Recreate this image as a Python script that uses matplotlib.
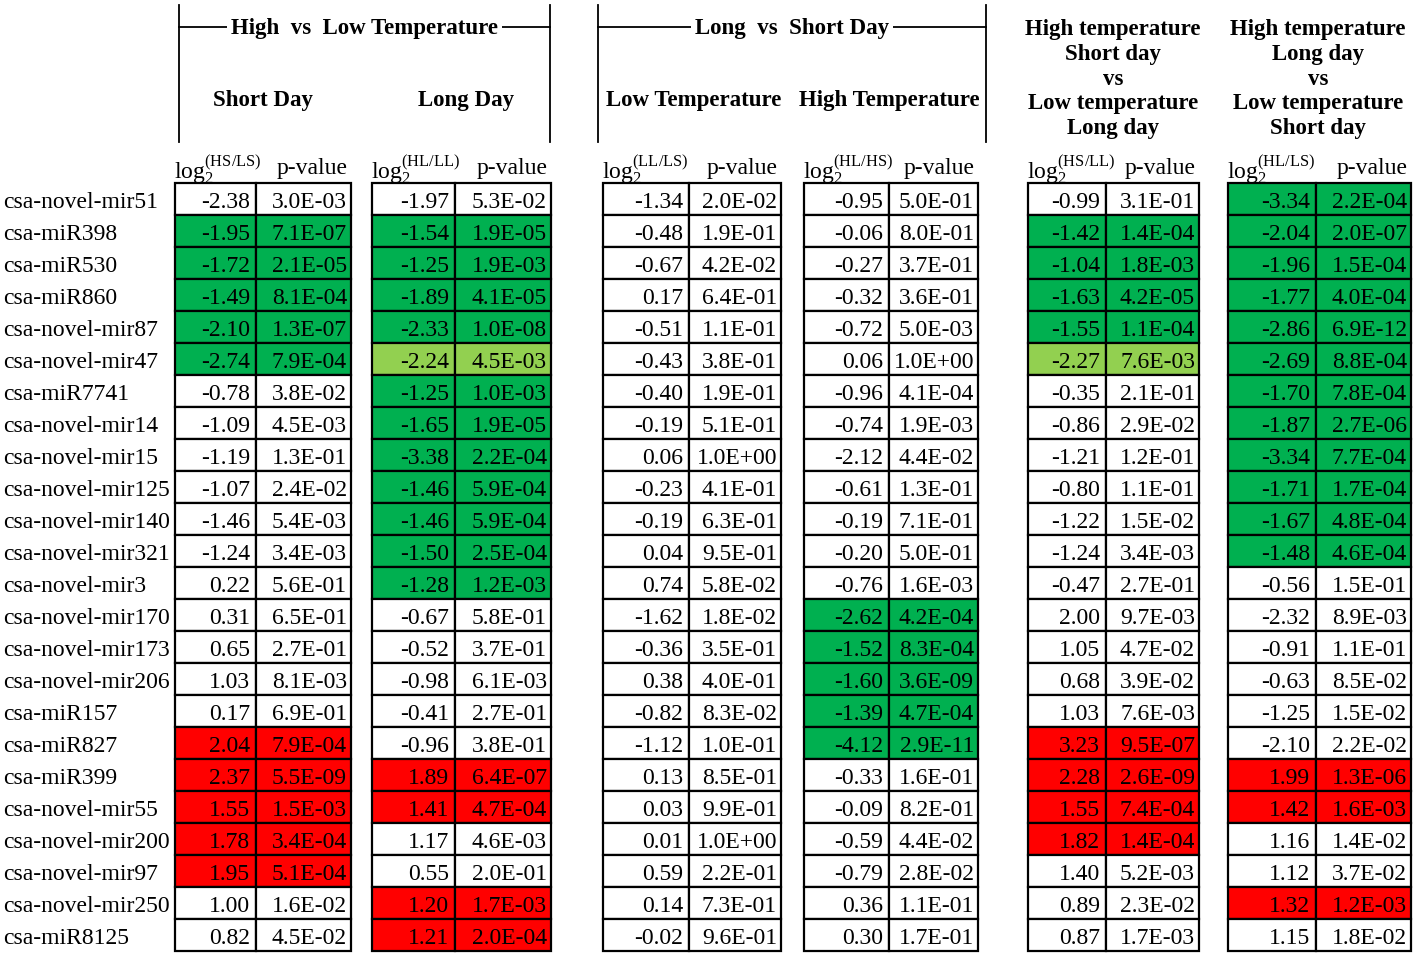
import matplotlib.pyplot as plt
from matplotlib.patches import Rectangle

plt.rcParams["font.family"] = "Liberation Serif"
plt.rcParams["mathtext.fontset"] = "custom"
plt.rcParams["mathtext.rm"] = "Liberation Serif"
plt.rcParams["mathtext.it"] = "Liberation Serif:italic"
plt.rcParams["mathtext.bf"] = "Liberation Serif:bold"

mirnas = ["csa-novel-mir51", "csa-miR398", "csa-miR530", "csa-miR860", "csa-novel-mir87",
          "csa-novel-mir47", "csa-miR7741", "csa-novel-mir14", "csa-novel-mir15", "csa-novel-mir125",
          "csa-novel-mir140", "csa-novel-mir321", "csa-novel-mir3", "csa-novel-mir170", "csa-novel-mir173",
          "csa-novel-mir206", "csa-miR157", "csa-miR827", "csa-miR399", "csa-novel-mir55",
          "csa-novel-mir200", "csa-novel-mir97", "csa-novel-mir250", "csa-miR8125"]

ratios = ["HS/LS", "HL/LL", "LL/LS", "HL/HS", "HS/LL", "HL/LS"]

log2_hs_ls = [-2.38, -1.95, -1.72, -1.49, -2.10, -2.74, -0.78, -1.09, -1.19, -1.07, -1.46, -1.24,
              0.22, 0.31, 0.65, 1.03, 0.17, 2.04, 2.37, 1.55, 1.78, 1.95, 1.00, 0.82]
p_hs_ls = [3.0e-03, 7.1e-07, 2.1e-05, 8.1e-04, 1.3e-07, 7.9e-04, 3.8e-02, 4.5e-03, 1.3e-01, 2.4e-02, 5.4e-03, 3.4e-03,
           5.6e-01, 6.5e-01, 2.7e-01, 8.1e-03, 6.9e-01, 7.9e-04, 5.5e-09, 1.5e-03, 3.4e-04, 5.1e-04, 1.6e-02, 4.5e-02]
mark_hs_ls = "wgggggwwwwwwwwwwwrrrrrww"

log2_hl_ll = [-1.97, -1.54, -1.25, -1.89, -2.33, -2.24, -1.25, -1.65, -3.38, -1.46, -1.46, -1.50,
              -1.28, -0.67, -0.52, -0.98, -0.41, -0.96, 1.89, 1.41, 1.17, 0.55, 1.20, 1.21]
p_hl_ll = [5.3e-02, 1.9e-05, 1.9e-03, 4.1e-05, 1.0e-08, 4.5e-03, 1.0e-03, 1.9e-05, 2.2e-04, 5.9e-04, 5.9e-04, 2.5e-04,
           1.2e-03, 5.8e-01, 3.7e-01, 6.1e-03, 2.7e-01, 3.8e-01, 6.4e-07, 4.7e-04, 4.6e-03, 2.0e-01, 1.7e-03, 2.0e-04]
mark_hl_ll = "wggggl" + "ggggggg" + "wwwww" + "rrwwrr"

log2_ll_ls = [-1.34, -0.48, -0.67, 0.17, -0.51, -0.43, -0.40, -0.19, 0.06, -0.23, -0.19, 0.04,
              0.74, -1.62, -0.36, 0.38, -0.82, -1.12, 0.13, 0.03, 0.01, 0.59, 0.14, -0.02]
p_ll_ls = [2.0e-02, 1.9e-01, 4.2e-02, 6.4e-01, 1.1e-01, 3.8e-01, 1.9e-01, 5.1e-01, 1.0e+00, 4.1e-01, 6.3e-01, 9.5e-01,
           5.8e-02, 1.8e-02, 3.5e-01, 4.0e-01, 8.3e-02, 1.0e-01, 8.5e-01, 9.9e-01, 1.0e+00, 2.2e-01, 7.3e-01, 9.6e-01]
mark_ll_ls = "w" * 24

log2_hl_hs = [-0.95, -0.06, -0.27, -0.32, -0.72, 0.06, -0.96, -0.74, -2.12, -0.61, -0.19, -0.20,
              -0.76, -2.62, -1.52, -1.60, -1.39, -4.12, -0.33, -0.09, -0.59, -0.79, 0.36, 0.30]
p_hl_hs = [5.0e-01, 8.0e-01, 3.7e-01, 3.6e-01, 5.0e-03, 1.0e+00, 4.1e-04, 1.9e-03, 4.4e-02, 1.3e-01, 7.1e-01, 5.0e-01,
           1.6e-03, 4.2e-04, 8.3e-04, 3.6e-09, 4.7e-04, 2.9e-11, 1.6e-01, 8.2e-01, 4.4e-02, 2.8e-02, 1.1e-01, 1.7e-01]
mark_hl_hs = "w" * 13 + "g" * 5 + "w" * 6

log2_hs_ll = [-0.99, -1.42, -1.04, -1.63, -1.55, -2.27, -0.35, -0.86, -1.21, -0.80, -1.22, -1.24,
              -0.47, 2.00, 1.05, 0.68, 1.03, 3.23, 2.28, 1.55, 1.82, 1.40, 0.89, 0.87]
p_hs_ll = [3.1e-01, 1.4e-04, 1.8e-03, 4.2e-05, 1.1e-04, 7.6e-03, 2.1e-01, 2.9e-02, 1.2e-01, 1.1e-01, 1.5e-02, 3.4e-03,
           2.7e-01, 9.7e-03, 4.7e-02, 3.9e-02, 7.6e-03, 9.5e-07, 2.6e-09, 7.4e-04, 1.4e-04, 5.2e-03, 2.3e-02, 1.7e-03]
mark_hs_ll = "wggggl" + "w" * 11 + "rrrr" + "www"

log2_hl_ls = [-3.34, -2.04, -1.96, -1.77, -2.86, -2.69, -1.70, -1.87, -3.34, -1.71, -1.67, -1.48,
              -0.56, -2.32, -0.91, -0.63, -1.25, -2.10, 1.99, 1.42, 1.16, 1.12, 1.32, 1.15]
p_hl_ls = [2.2e-04, 2.0e-07, 1.5e-04, 4.0e-04, 6.9e-12, 8.8e-04, 7.8e-04, 2.7e-06, 7.7e-04, 1.7e-04, 4.8e-04, 4.6e-04,
           1.5e-01, 8.9e-03, 1.1e-01, 8.5e-02, 1.5e-02, 2.2e-02, 1.3e-06, 1.6e-03, 1.4e-02, 3.7e-02, 1.2e-03, 1.8e-02]
mark_hl_ls = "g" * 12 + "w" * 6 + "rrwwrw"

# layout (pixel coords): left edge, divider, right edge of each table block
blocks = [(175, 256, 351), (372, 455, 551), (603, 689, 781),
          (804, 889, 978), (1028, 1106, 1199), (1228, 1316, 1411)]
TOP = 183
ROW_H = 32
FS = 17
HFS = 16.5
fills = {"w": "white", "g": "#00B050", "l": "#92D050", "r": "#FF0000"}

logs = [log2_hs_ls, log2_hl_ll, log2_ll_ls, log2_hl_hs, log2_hs_ll, log2_hl_ls]
pvals = [p_hs_ls, p_hl_ll, p_ll_ls, p_hl_hs, p_hs_ll, p_hl_ls]
marks = [mark_hs_ls, mark_hl_ll, mark_ll_ls, mark_hl_hs, mark_hs_ll, mark_hl_ls]

fig = plt.figure(figsize=(14.18, 9.56), dpi=100)
ax = fig.add_axes([0, 0, 1, 1])
ax.set_xlim(0, 1418)
ax.set_ylim(956, 0)
ax.axis("off")

for i, name in enumerate(mirnas):
    ax.text(3, TOP + ROW_H * (i + 0.5) + 1, name, fontsize=FS, ha="left", va="center_baseline")

for b, (x0, xm, x1) in enumerate(blocks):
    for i in range(len(mirnas)):
        y = TOP + ROW_H * i
        c = fills[marks[b][i]]
        ax.add_patch(Rectangle((x0, y), xm - x0, ROW_H, facecolor=c, edgecolor="black", lw=1.6))
        ax.add_patch(Rectangle((xm, y), x1 - xm, ROW_H, facecolor=c, edgecolor="black", lw=1.6))
        yc = y + ROW_H / 2 + 1
        ax.text(xm - 6, yc, "{:.2f}".format(logs[b][i]), fontsize=FS, ha="right", va="center_baseline")
        ax.text(x1 - 4, yc, "{:.1E}".format(pvals[b][i]), fontsize=FS, ha="right", va="center_baseline")
    ax.text(x0 - 1, 166, r"$\mathrm{log}_2^{\mathrm{(" + ratios[b] + ")}}$", fontsize=17,
            ha="left", va="center_baseline")
    ax.text(x1 - 3, 166, "p-value", fontsize=17, ha="right", va="center_baseline")

# bracketed group headers
def group(xl, xr, title, subs):
    ax.plot([xl, xl], [5, 142], color="black", lw=1.3)
    ax.plot([xr, xr], [5, 142], color="black", lw=1.3)
    ax.plot([xl, xr], [27, 27], color="black", lw=1.3)
    ax.text((xl + xr) / 2, 28, title, fontsize=HFS, fontweight="bold", ha="center", va="center",
            bbox=dict(facecolor="white", edgecolor="none", pad=3))
    for x, s in subs:
        ax.text(x, 100, s, fontsize=HFS, fontweight="bold", ha="center", va="center")

group(179, 550, "High  vs  Low Temperature", [(263, "Short Day"), (466, "Long Day")])
group(598, 986, "Long  vs  Short Day", [(694, "Low Temperature"), (889, "High Temperature")])

ax.text(1113, 79, "High temperature\nShort day\nvs\nLow temperature\nLong day", fontsize=HFS,
        fontweight="bold", ha="center", va="center", linespacing=1.245)
ax.text(1318, 79, "High temperature\nLong day\nvs\nLow temperature\nShort day", fontsize=HFS,
        fontweight="bold", ha="center", va="center", linespacing=1.245)

fig.savefig("out.png", dpi=100)
